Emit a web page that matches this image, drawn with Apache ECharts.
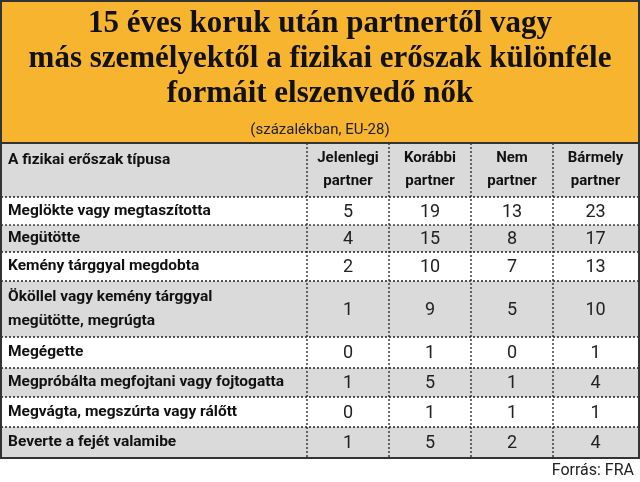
<!DOCTYPE html>
<html><head><meta charset="utf-8">
<script src="https://cdn.jsdelivr.net/npm/echarts@6/dist/echarts.min.js"></script>
<style>html,body{margin:0;padding:0;background:#fff}#c{width:640px;height:482px}</style>
</head><body><div id="c"></div>
<script>
const titleLines = ["15 éves koruk után partnertől vagy", "más személyektől a fizikai erőszak különféle", "formáit elszenvedő nők"];
const subtitle = "(százalékban, EU-28)";
const firstHeader = "A fizikai erőszak típusa";
const columns = ["Jelenlegi\npartner", "Korábbi\npartner", "Nem\npartner", "Bármely\npartner"];
const categories = ["Meglökte vagy megtaszította", "Megütötte", "Kemény tárggyal megdobta",
  "Ököllel vagy kemény tárggyal\nmegütötte, megrúgta", "Megégette", "Megpróbálta megfojtani vagy fojtogatta",
  "Megvágta, megszúrta vagy rálőtt", "Beverte a fejét valamibe"];
const current = [5, 4, 2, 1, 0, 1, 0, 1];
const former = [19, 15, 10, 9, 1, 5, 1, 5];
const nonPartner = [13, 8, 7, 5, 0, 1, 1, 2];
const anyPartner = [23, 17, 13, 10, 1, 4, 1, 4];
const source = "Forrás: FRA";

const values = [current, former, nonPartner, anyPartner];
const rowBounds = [197, 225, 252, 281, 337, 368, 397, 427, 458];
const colX = [307, 389, 471, 553, 638];
const els = [];
els.push({type:'rect', shape:{x:1,y:1,width:638,height:142}, style:{fill:'#F7B52F'}});
els.push({type:'rect', shape:{x:1,y:143,width:638,height:54}, style:{fill:'#DADADA'}});
for (let i = 0; i < categories.length; i++) {
  const y0 = rowBounds[i], y1 = rowBounds[i+1];
  els.push({type:'rect', shape:{x:1,y:y0,width:638,height:y1-y0}, style:{fill: i%2 ? '#DADADA' : '#FFFFFF'}});
  els.push({type:'text', style:{text:categories[i], x:8, y:(y0+y1)/2, verticalAlign:'middle', font:'bold 15.5px Roboto', fill:'#111', lineHeight:24}});
  for (let j = 0; j < 4; j++) {
    els.push({type:'text', style:{text:String(values[j][i]), x:(colX[j]+colX[j+1])/2, y:(y0+y1)/2+1, align:'center', verticalAlign:'middle', font:'18px Roboto', fill:'#222'}});
  }
  if (i > 0) els.push({type:'line', shape:{x1:1,y1:y0,x2:639,y2:y0}, style:{stroke:'#222', lineWidth:1.3, lineDash:[2,2]}});
}
els.push({type:'line', shape:{x1:1,y1:197,x2:639,y2:197}, style:{stroke:'#222', lineWidth:1.3, lineDash:[2,2]}});
for (let j = 0; j < 4; j++) {
  els.push({type:'line', shape:{x1:colX[j],y1:143,x2:colX[j],y2:458}, style:{stroke:'#222', lineWidth:1.3, lineDash:[2,2]}});
  els.push({type:'text', style:{text:columns[j], x:(colX[j]+colX[j+1])/2, y:170, align:'center', verticalAlign:'middle', font:'bold 15px Roboto', fill:'#111', lineHeight:23}});
}
els.push({type:'text', style:{text:firstHeader, x:8, y:160, verticalAlign:'middle', font:'bold 15.5px Roboto', fill:'#111'}});
titleLines.forEach((t, k) => els.push({type:'text', style:{text:t, x:320, y:24+k*35, align:'center', verticalAlign:'middle', font:'bold 31px "Liberation Serif"', fill:'#111'}}));
els.push({type:'text', style:{text:subtitle, x:320, y:130, align:'center', verticalAlign:'middle', font:'15px Roboto', fill:'#222'}});
els.push({type:'line', shape:{x1:0,y1:143,x2:640,y2:143}, style:{stroke:'#333', lineWidth:2}});
els.push({type:'rect', shape:{x:1,y:1,width:638,height:457}, style:{fill:'none', stroke:'#333', lineWidth:2}});
els.push({type:'text', style:{text:source, x:634, y:471, align:'right', verticalAlign:'middle', font:'16px Roboto', fill:'#222'}});

const chart = echarts.init(document.getElementById('c'));
chart.setOption({animation:false, graphic:{elements:els}});
</script></body></html>
